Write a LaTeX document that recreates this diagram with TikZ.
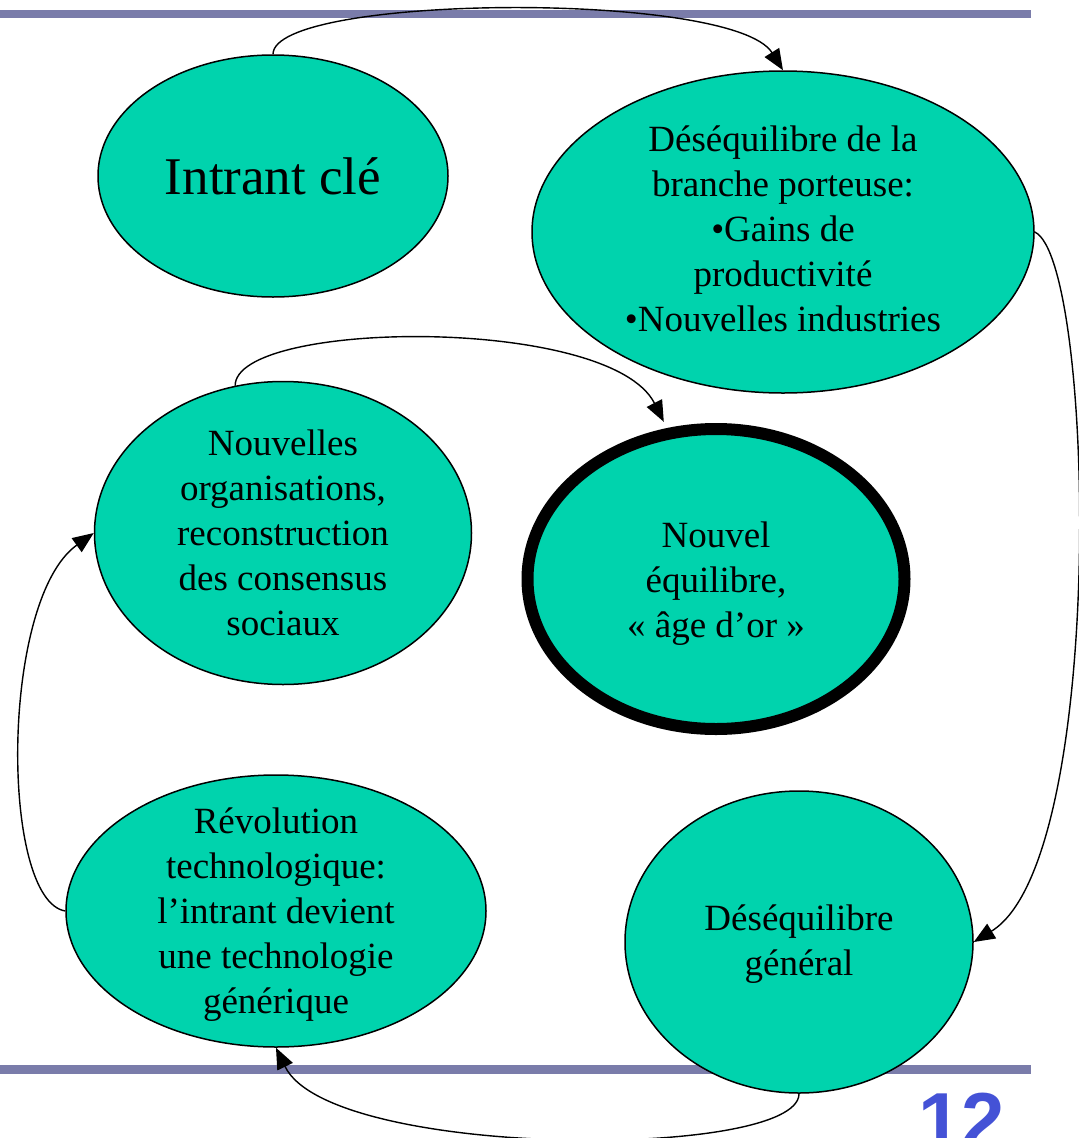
\documentclass[tikz,border=0pt]{standalone}
\usepackage{fontspec}
\setmainfont{Liberation Serif}
\newfontfamily\numfont{Liberation Sans}
\usetikzlibrary{shapes.geometric,arrows.meta}
\definecolor{fillteal}{RGB}{0,211,173}
\definecolor{barcol}{RGB}{122,124,170}
\definecolor{numcol}{RGB}{68,82,214}
\begin{document}
\begin{tikzpicture}[x=1pt,y=-1pt,
  blob/.style={ellipse, draw=black, line width=1.5pt, fill=fillteal, inner sep=0pt},
  txt/.style={align=center, font=\fontsize{37}{45}\selectfont, inner sep=0pt},
  conn/.style={line width=1.4pt, -{Triangle[length=21pt,width=17pt]}},
  bar/.style={fill=barcol, draw=none}]
\useasboundingbox (0,0) rectangle (1079,1138);
% bars
\path[bar] (0,10) rectangle (1031,18);
\path[bar] (0,1065) rectangle (1031,1074);
% ellipses
\node[blob, minimum width=350pt, minimum height=242pt] (intrant) at (273,176) {};
\node[blob, minimum width=502pt, minimum height=322pt] (des) at (783,232) {};
\node[blob, minimum width=377pt, minimum height=303pt] (org) at (283,533) {};
\node[blob, line width=12pt, minimum width=377pt, minimum height=300pt] (neq) at (716,579) {};
\node[blob, minimum width=420pt, minimum height=272pt] (rev) at (276,911) {};
\node[blob, minimum width=348pt, minimum height=302pt] (gen) at (799,942) {};
% texts
\node[txt, font=\fontsize{53}{60}\selectfont] (tintrant) at (intrant.center) {Intrant clé};
\node[txt] (tdes) at ([yshift=3pt]des.center) {Déséquilibre de la\\branche porteuse:\\•Gains de\\productivité\\•Nouvelles industries};
\node[txt] (torg) at (org.center) {Nouvelles\\organisations,\\reconstruction\\des consensus\\sociaux};
\node[txt] (tneq) at ([yshift=-5pt]neq.center) {Nouvel\\équilibre,\\«~âge d’or~»};
\node[txt] (trev) at ([yshift=-4pt]rev.center) {Révolution\\technologique:\\l’intrant devient\\une technologie\\générique};
\node[txt] (tgen) at ([yshift=-2pt]gen.center) {Déséquilibre\\général};
% page number
\node[anchor=base, inner sep=0pt, text=numcol, font=\numfont\bfseries\fontsize{78}{78}\selectfont] (num) at (962,1147) {12};
% connectors
\draw[conn] (intrant.north) .. controls +(0,-60) and +(-50,-80) .. (des.north);
\draw[conn] (des.east) .. controls +(60,28) and +(134,-82) .. (gen.east);
\draw[conn] (gen.south) .. controls +(0,66) and +(54,112) .. (rev.south);
\draw[conn] (rev.west) .. controls +(-65,-11) and +(-94,67) .. (org.west);
\draw[conn, shorten >=7pt] (org.108) .. controls +(0,-66) and +(-57,-113) .. (neq.108);
\end{tikzpicture}
\end{document}
